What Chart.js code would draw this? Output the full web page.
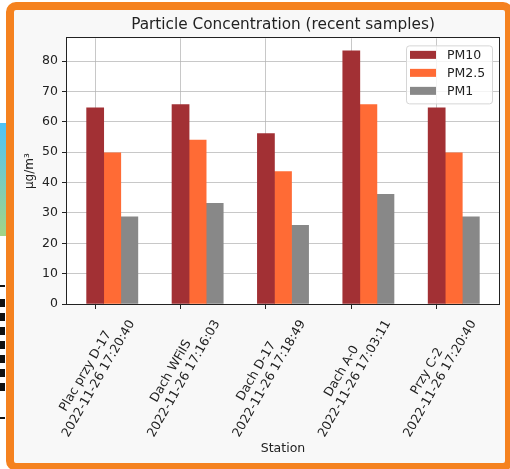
<!DOCTYPE html>
<html>
<head>
<meta charset="utf-8">
<script src="https://cdn.jsdelivr.net/npm/chart.js@4"></script>
<style>
html,body{margin:0;padding:0;background:#fff;width:510px;height:469px;overflow:hidden;}
#strip{position:absolute;left:0;top:123px;width:6px;height:113px;background:linear-gradient(#4fc3f7,#a3d486);}
#dashes{position:absolute;left:0;top:299px;width:5px;height:94px;background:repeating-linear-gradient(#111 0 8px, transparent 8px 14px);}
.thin{position:absolute;left:0;width:5px;height:2px;background:#111;}
#card{position:absolute;left:6px;top:2px;width:491px;height:453px;border:8px solid #f5821f;border-radius:10px;background:#f8f8f8;}
canvas{display:block;}
</style>
</head>
<body>
<div id="strip"></div>
<div id="dashes"></div>
<div class="thin" style="top:285px"></div>
<div class="thin" style="top:417px"></div>
<div id="card"><canvas id="c" width="491" height="453"></canvas></div>
<script>
// ---- data ----
const stations = ["Plac przy D-17", "Dach WFiIS", "Dach D-17", "Dach A-0", "Przy C-2"];
const sampleTimes = ["2022-11-26 17:20:40", "2022-11-26 17:16:03", "2022-11-26 17:18:49", "2022-11-26 17:03:11", "2022-11-26 17:20:40"];
const seriesNames = ["PM10", "PM2.5", "PM1"];
const pm10 = [64.6, 65.7, 56.1, 83.4, 64.6];
const pm25 = [49.8, 54.0, 43.6, 65.7, 49.8];
const pm1  = [28.7, 33.2, 25.9, 36.1, 28.7];
const yTicks = [0, 10, 20, 30, 40, 50, 60, 70, 80];

// ---- styling ----
const FONT = 'DejaVu Sans';
const colors = ['#a23034', '#ff6b35', '#888888'];
const barOffsets = [0, 0.2, 0.4];
const seriesValues = [pm10, pm25, pm1];
const gridColor = 'rgba(176,176,176,0.7)';

const datasets = seriesValues.map((vals, s) => ({
  label: seriesNames[s],
  data: vals.map((v, i) => ({x: i + barOffsets[s], y: v})),
  backgroundColor: colors[s],
  borderWidth: 0,
  grouped: false,
  barPercentage: 1,
  categoryPercentage: 1
}));

const framePlugin = {
  id: 'frame',
  beforeDraw(chart) {
    const {ctx, chartArea: a} = chart;
    ctx.save();
    ctx.fillStyle = '#ffffff';
    ctx.fillRect(a.left, a.top, a.right - a.left, a.bottom - a.top);
    ctx.restore();
  },
  afterDraw(chart) {
    const {ctx, chartArea: a} = chart;
    ctx.save();
    // spines
    ctx.strokeStyle = '#222';
    ctx.lineWidth = 1;
    ctx.strokeRect(Math.round(a.left) - 0.5, Math.round(a.top) - 0.5, Math.round(a.right - a.left) + 1, Math.round(a.bottom - a.top) + 1);

    // x tick labels (rotated, centered like the original)
    const xs = chart.scales.x;
    ctx.font = '12.5px "' + FONT + '"';
    ctx.fillStyle = '#222';
    ctx.textAlign = 'center';
    ctx.textBaseline = 'middle';
    stations.forEach((name, i) => {
      const px = xs.getPixelForValue(i);
      ctx.save();
      ctx.translate(px - 3, a.bottom + 71);
      ctx.rotate(-Math.PI / 3);
      ctx.fillText(name, 0, -7.5);
      ctx.fillText(sampleTimes[i], 0, 7.5);
      ctx.restore();
    });

    // legend
    const bw = 86, bh = 58;
    const bx = a.right - 7 - bw, by = a.top + 7;
    ctx.beginPath();
    ctx.roundRect(bx + 0.5, by + 0.5, bw, bh, 3);
    ctx.fillStyle = 'rgba(255,255,255,0.8)';
    ctx.fill();
    ctx.strokeStyle = '#d6d6d6';
    ctx.stroke();
    ctx.textAlign = 'left';
    chart.data.datasets.forEach((ds, k) => {
      const cy = by + 9.5 + k * 18;
      ctx.fillStyle = ds.backgroundColor;
      ctx.fillRect(bx + 4, cy - 4, 26, 8);
      ctx.fillStyle = '#222';
      ctx.fillText(ds.label, bx + 41, cy + 0.5);
    });
    ctx.restore();
  }
};

new Chart(document.getElementById('c'), {
  type: 'bar',
  data: {datasets},
  options: {
    responsive: false,
    animation: false,
    layout: {padding: {left: 0, right: 6, top: 0, bottom: 0}},
    plugins: {
      legend: {display: false},
      tooltip: {enabled: false},
      title: {
        display: true,
        fullSize: false,
        text: 'Particle Concentration (recent samples)',
        color: '#222',
        font: {family: FONT, size: 15.3, weight: 'normal'},
        padding: {top: 6, bottom: 4}
      }
    },
    scales: {
      x: {
        type: 'linear',
        min: -0.33,
        max: 4.73,
        offset: false,
        z: 1,
        afterBuildTicks: s => { s.ticks = stations.map((_, i) => ({value: i})); },
        ticks: {display: false},
        grid: {offset: false, color: gridColor, lineWidth: 1, tickColor: '#222', tickLength: 5, drawTicks: true},
        border: {display: false},
        title: {display: true, text: 'Station', color: '#222', font: {family: FONT, size: 12.5}, padding: {top: 0, bottom: 7}},
        afterFit: s => { s.height = 159; }
      },
      y: {
        type: 'linear',
        min: 0,
        max: 87.5,
        z: 1,
        afterBuildTicks: s => { s.ticks = yTicks.map(v => ({value: v})); },
        ticks: {color: '#222', font: {family: FONT, size: 12.5}, padding: 4},
        grid: {color: gridColor, lineWidth: 1, tickColor: '#222', tickLength: 5, drawTicks: true},
        border: {display: false},
        title: {display: true, text: 'µg/m³', color: '#222', font: {family: FONT, size: 12}, padding: {top: 9, bottom: 0}},
        afterFit: s => { s.width = 53; }
      }
    }
  },
  plugins: [framePlugin]
});
</script>
</body>
</html>
